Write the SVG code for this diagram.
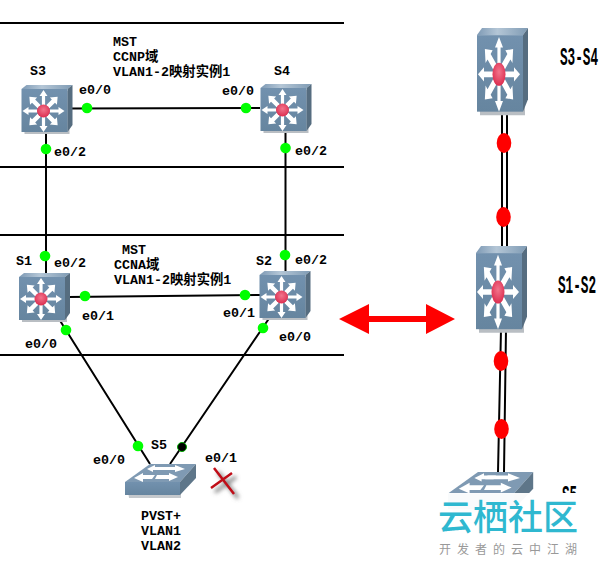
<svg xmlns="http://www.w3.org/2000/svg" xmlns:xlink="http://www.w3.org/1999/xlink" width="611" height="562" viewBox="0 0 611 562">
<style>
.t{font-family:"Liberation Mono","Noto Sans CJK SC",monospace;font-size:13.33px;font-weight:700;fill:#000}
.r{font-family:"Liberation Mono",monospace;font-size:12.700px;font-weight:700;fill:#000}
.l{stroke:#000;stroke-width:2;fill:none}
.b{stroke:#000;stroke-width:2;fill:none}
.g{fill:#0f0}
.e{fill:#f00}
</style>
<defs>
<linearGradient id="front" x1="0" y1="0" x2="0" y2="1"><stop offset="0" stop-color="#7291ae"/><stop offset="1" stop-color="#66859f"/></linearGradient>
<linearGradient id="top" x1="0" y1="0" x2="1" y2="0"><stop offset="0" stop-color="#7e9ab5"/><stop offset=".4" stop-color="#b4c6d6"/><stop offset="1" stop-color="#7f9bb4"/></linearGradient>
<radialGradient id="core" cx=".5" cy=".4" r=".6"><stop offset="0" stop-color="#f2748c"/><stop offset="1" stop-color="#dc2e50"/></radialGradient>
<filter id="blur" x="-30%" y="-30%" width="160%" height="160%"><feGaussianBlur stdDeviation="2"/></filter>
<clipPath id="s5clip"><rect x="555" y="470" width="30" height="23"/></clipPath>
<polygon id="ar" points="-1.6,-6 -1.6,-15 -4,-15 0,-21 4,-15 1.6,-15 1.6,-6" fill="#fff"/>
<polygon id="ad" points="-2.200,-6 -2.200,-14 -5,-14 0,-20 5,-14 2.200,-14 2.200,-6" fill="#fff"/>
<g id="l3">
<polygon points="1,5 47,5 47,48 2,48" fill="#b9bec3" transform="translate(1,1)"/>
<polygon points="0,4 5,0 51,0 46,4" fill="url(#top)"/>
<polygon points="46,4 51,0 51,40 46,47" fill="#566d80"/>
<rect x="0" y="4" width="46" height="43" fill="url(#front)"/>
<g transform="translate(22,26)">
<use xlink:href="#ar"/><use xlink:href="#ad" transform="rotate(45)"/><use xlink:href="#ar" transform="rotate(90)"/><use xlink:href="#ad" transform="rotate(135)"/><use xlink:href="#ar" transform="rotate(180)"/><use xlink:href="#ad" transform="rotate(225)"/><use xlink:href="#ar" transform="rotate(270)"/><use xlink:href="#ad" transform="rotate(315)"/>
<circle r="6.500" fill="url(#core)"/>
</g>
</g>
<g id="l2">
<polygon points="1,20 55,20 55,33 3,33" fill="#c4c8cc" transform="translate(1,1)"/>
<polygon points="0,18 25,0 71,0 55,18" fill="#7f9ab3"/>
<polygon points="55,18 71,0 71,14 55,31" fill="#5e7689"/>
<rect x="0" y="18" width="55" height="13" fill="url(#front)"/>
<g fill="#fff">
<polygon points="40,3 30,3 30,1 22,5 28,8 28,6 38,6"/>
<polygon points="33,3 50,3 50,1 60,5 50,8 50,6 31,6"/>
<polygon points="30,11 18,11 18,9 9,14 18,18 18,15 27,15"/>
<polygon points="32,11 44,11 44,9 53,13 44,17 44,15 30,15"/>
</g>
</g>
</defs>
<g id="bands">
<path class="b" d="M0 23H344M0 167H344M0 235H344M0 355H344"/>
</g>
<g id="connectors">
<path class="l" d="M68 108.500L260 108M46 131V274M285.500 130V272M68 297L260 295M59 319L150 464M270 317L170 464"/>
<path class="l" d="M502 112V246M507 112V246M501 329L498 472M506 329L504 472"/>
<g id="link-dots">
<circle class="g" cx="87" cy="108" r="5.300"/><circle class="g" cx="246" cy="108" r="5.300"/>
<circle class="g" cx="46" cy="149" r="5.300"/><circle class="g" cx="285.500" cy="148" r="5.300"/>
<circle class="g" cx="45" cy="256" r="5.300"/><circle class="g" cx="285" cy="255" r="5.300"/>
<circle class="g" cx="85" cy="296" r="5.300"/><circle class="g" cx="245" cy="295" r="5.300"/>
<circle class="g" cx="66" cy="330" r="5.300"/><circle class="g" cx="263" cy="328" r="5.300"/>
<circle class="g" cx="138" cy="446" r="5.300"/><circle cx="182" cy="447" r="4.500" fill="#000" stroke="#0a0" stroke-width="1"/>
<ellipse class="e" cx="504" cy="143" rx="7.300" ry="10"/><ellipse class="e" cx="503.500" cy="217" rx="7.300" ry="10"/>
<ellipse class="e" cx="501" cy="361" rx="7.300" ry="10"/><ellipse class="e" cx="501.500" cy="429" rx="7.300" ry="10"/>
</g>
<polygon id="double-arrow" class="e" points="339,319 369,304 369,316 426,316 426,304 455,319 426,334 426,322 369,322 369,334"/>
</g>
<g id="S3"><use xlink:href="#l3" transform="translate(21.500,85)"/><text class="t" x="30" y="75">S3</text></g>
<g id="S4"><use xlink:href="#l3" transform="translate(260.500,84)"/><text class="t" x="274" y="75">S4</text></g>
<g id="S1"><use xlink:href="#l3" transform="translate(19,273)"/><text class="t" x="16" y="265">S1</text></g>
<g id="S2"><use xlink:href="#l3" transform="translate(259.500,271)"/><text class="t" x="256" y="265">S2</text></g>
<g id="S5"><use xlink:href="#l2" transform="translate(125,464)"/><text class="t" x="151" y="449">S5</text></g>
<g id="labels">
<text class="t" x="113" y="46">MST</text><text class="t" x="113" y="61">CCNP域</text><text class="t" x="113" y="76">VLAN1-2映射实例1</text>
<text class="t" x="122" y="254">MST</text><text class="t" x="114" y="269">CCNA域</text><text class="t" x="114" y="284">VLAN1-2映射实例1</text>
<text class="t" x="79" y="94">e0/0</text><text class="t" x="222" y="95">e0/0</text>
<text class="t" x="54" y="156">e0/2</text><text class="t" x="295" y="155">e0/2</text>
<text class="t" x="54" y="267">e0/2</text><text class="t" x="295" y="264">e0/2</text>
<text class="t" x="82" y="320">e0/1</text><text class="t" x="223" y="317">e0/1</text>
<text class="t" x="25" y="348">e0/0</text><text class="t" x="279" y="341">e0/0</text>
<text class="t" x="93" y="464">e0/0</text><text class="t" x="205" y="462">e0/1</text>
<text class="t" x="141" y="520">PVST+</text><text class="t" x="141" y="535">VLAN1</text><text class="t" x="141" y="550">VLAN2</text>
</g>
<g id="cross">
<path d="M218 472L238 498M215 492L236 477" stroke="#777" stroke-width="3" fill="none" filter="url(#blur)"/>
<path d="M214 468L234 494M211 488L232 473" stroke="#c00d17" stroke-width="2.500" fill="none"/>
</g>
<g id="S3-S4"><use xlink:href="#l3" transform="translate(477,28) scale(1,1.780)"/><text class="r" transform="translate(560,65) scale(1,2)">S3-S4</text></g>
<g id="S1-S2"><use xlink:href="#l3" transform="translate(476,246) scale(1,1.770)"/><text class="r" transform="translate(558,293) scale(1,2)">S1-S2</text></g>
<g id="S5-right"><use xlink:href="#l2" transform="translate(448,472) scale(1.200)"/><g clip-path="url(#s5clip)"><text class="r" transform="translate(562,503) scale(1,2)">S5</text></g></g>
<g id="watermark">
<rect x="405" y="493" width="206" height="69" fill="#fff" fill-opacity=".96"/>
<text x="438" y="530" font-family="'Noto Sans CJK SC',sans-serif" font-size="35" font-weight="500" fill="#2fb8d0">云栖社区</text>
<text x="439" y="554" font-family="'Noto Sans CJK SC',sans-serif" font-size="12" letter-spacing="6" fill="#999">开发者的云中江湖</text>
</g>
</svg>
